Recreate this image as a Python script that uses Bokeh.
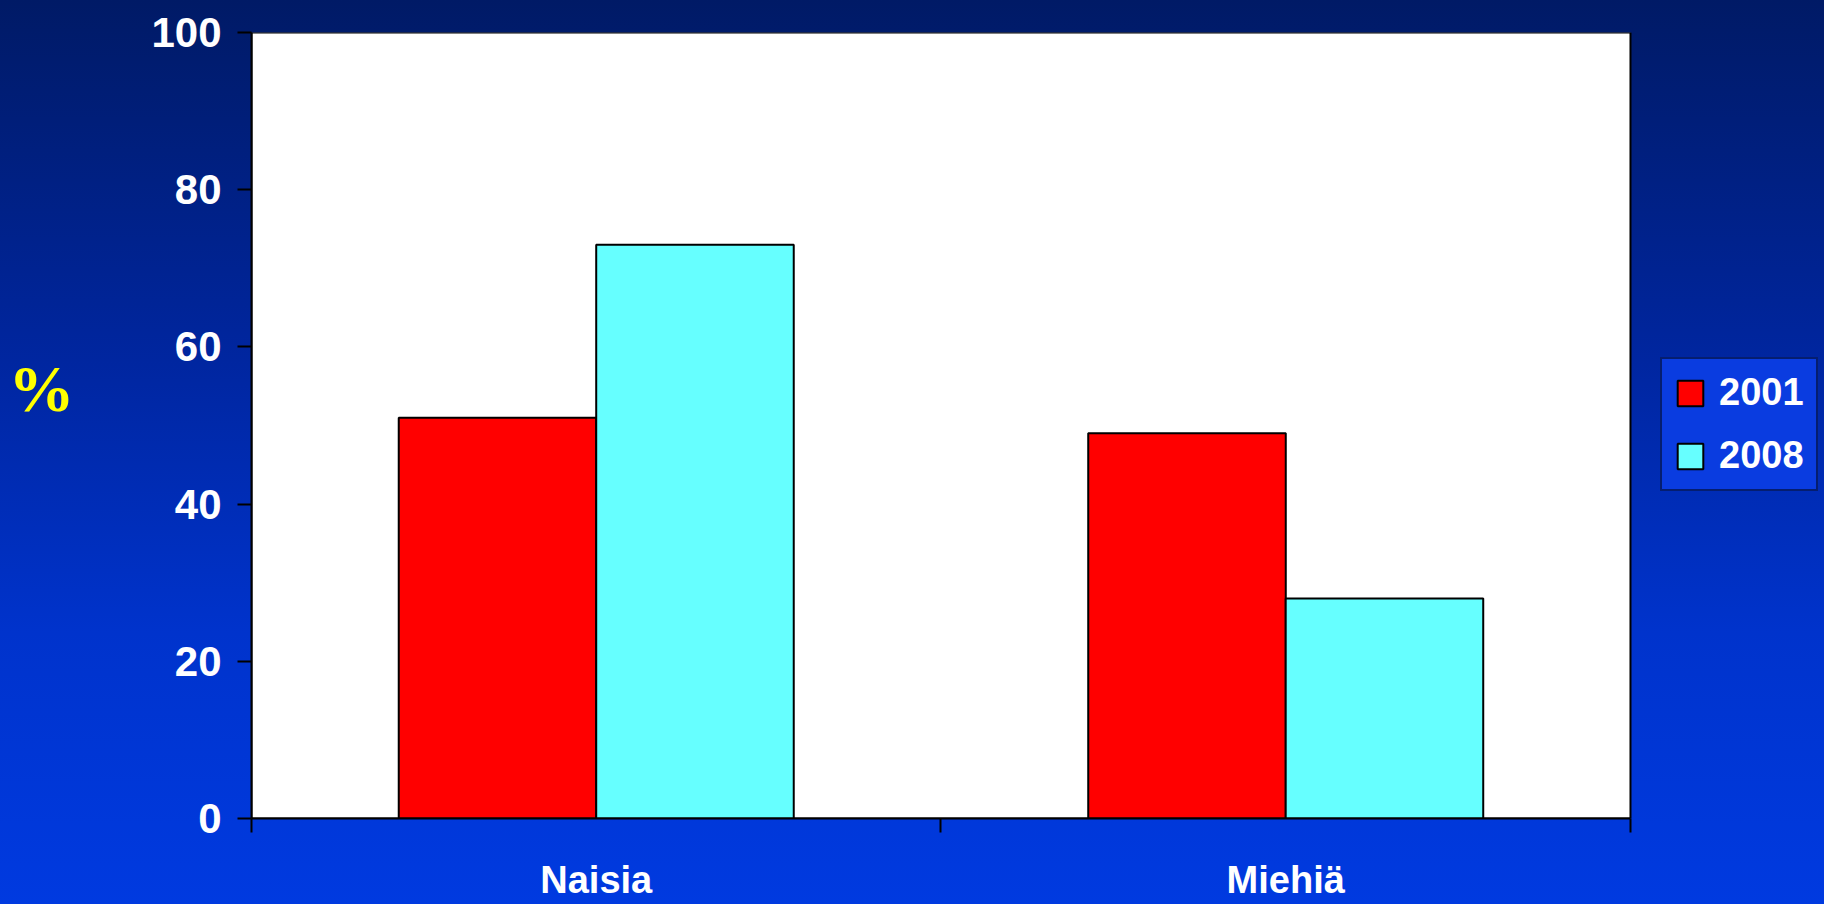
from bokeh.plotting import figure
from bokeh.models import FixedTicker, Legend, LegendItem, Range1d, LinearAxis
from bokeh.embed import file_html
from bokeh.resources import INLINE

# ---- data ----
categories = ["Naisia", "Miehiä"]
series_names = ["2001", "2008"]
values_2001 = [51, 49]
values_2008 = [73, 28]
y_ticks = [0, 20, 40, 60, 80, 100]
y_label = "%"
y_label_at = 54.7

# ---- style / layout ----
colors = ["#FF0000", "#66FFFF"]
bar_width = 0.2865
offset = 0.1432
x_view_end = 2.2814   # frame continues right of the plot box to leave room for the legend

n = len(categories)
p = figure(width=1824, height=904, output_backend="svg", toolbar_location=None,
           x_range=Range1d(0, x_view_end), y_range=Range1d(0, 100),
           min_border_left=251, min_border_right=0, min_border_top=32,
           min_border_bottom=86)

p.styles = {"background": "linear-gradient(180deg, #001a66 0%, #0026a0 40%, #0033cc 70%, #003ae0 100%)"}
p.border_fill_alpha = 0
p.background_fill_alpha = 0
p.outline_line_color = None
p.grid.visible = False

# white plot box with black border
p.quad(left=[0], right=[n], bottom=[0], top=[100], fill_color="white",
       line_color="black", line_width=2)

centers = [i + 0.5 for i in range(n)]
r1 = p.vbar(x=[c - offset for c in centers], top=values_2001, bottom=0, width=bar_width,
            fill_color=colors[0], line_color="black", line_width=2)
r2 = p.vbar(x=[c + offset for c in centers], top=values_2008, bottom=0, width=bar_width,
            fill_color=colors[1], line_color="black", line_width=2)

# x axis: labels at category centres, tick marks at category boundaries
xa = p.xaxis[0]
xa.bounds = (0, n)
xa.ticker = FixedTicker(ticks=centers, minor_ticks=list(range(n + 1)))
xa.major_label_overrides = {c: name for c, name in zip(centers, categories)}
xa.major_tick_out = 0
xa.major_tick_in = 0
xa.minor_tick_out = 14
xa.minor_tick_in = 0
xa.minor_tick_line_color = "black"
xa.minor_tick_line_width = 2
xa.axis_line_color = "black"
xa.axis_line_width = 2
xa.major_label_standoff = 26
xa.major_label_text_font = "Liberation Sans"
xa.major_label_text_font_style = "bold"
xa.major_label_text_font_size = "38px"
xa.major_label_text_color = "white"

ya = p.yaxis[0]
ya.ticker = FixedTicker(ticks=y_ticks)
ya.major_tick_out = 14
ya.major_tick_in = 0
ya.major_tick_line_color = "black"
ya.major_tick_line_width = 2
ya.minor_tick_line_color = None
ya.axis_line_color = "black"
ya.axis_line_width = 2
ya.major_label_standoff = 16
ya.major_label_text_font = "Liberation Sans"
ya.major_label_text_font_style = "bold"
ya.major_label_text_font_size = "42px"
ya.major_label_text_color = "white"

# the "%" label, drawn as a second left axis with a single labelled position
pa = LinearAxis(ticker=FixedTicker(ticks=[y_label_at]),
                major_label_overrides={y_label_at: y_label},
                axis_line_color=None, major_tick_line_color=None,
                minor_tick_line_color=None, major_tick_out=0, major_tick_in=0,
                major_label_standoff=74,
                major_label_text_font="Liberation Serif",
                major_label_text_font_style="bold",
                major_label_text_font_size="66px",
                major_label_text_color="#FFFF00")
p.add_layout(pa, "left")

legend = Legend(items=[LegendItem(label=series_names[0], renderers=[r1]),
                       LegendItem(label=series_names[1], renderers=[r2])],
                location=(1409, 327), orientation="vertical",
                label_text_font="Liberation Sans", label_text_font_style="bold",
                label_text_font_size="38px", label_text_color="white",
                glyph_width=32, glyph_height=32, label_standoff=13,
                padding=12, spacing=20, margin=0,
                border_line_color="black", border_line_width=2,
                background_fill_color="#0a3ce0", background_fill_alpha=1)
p.add_layout(legend, "center")

open("out.html", "w").write(file_html(p, INLINE))
